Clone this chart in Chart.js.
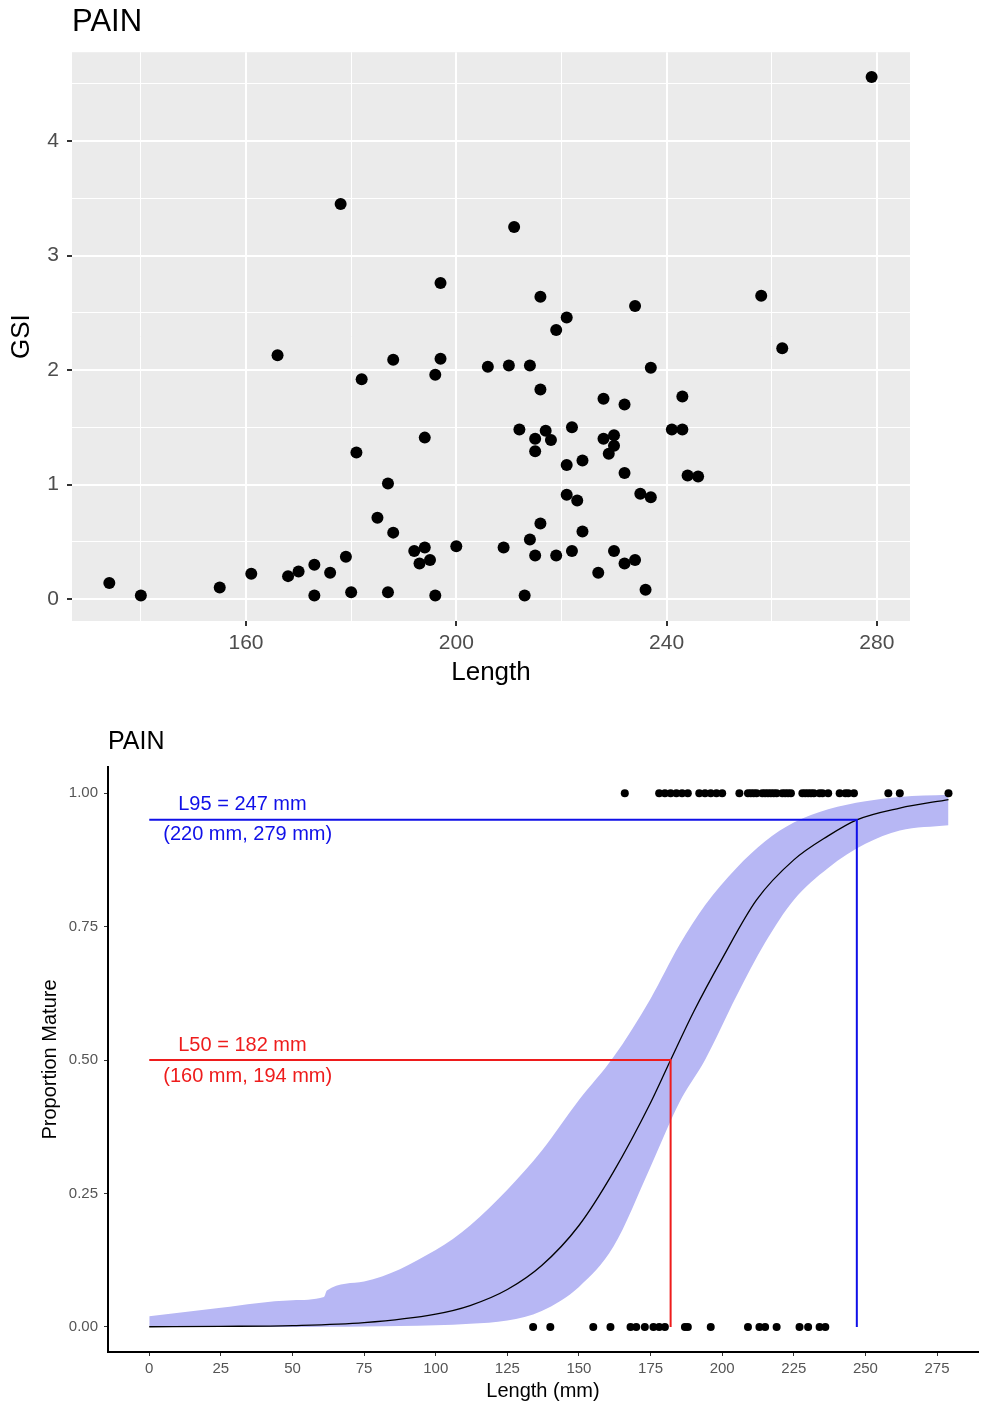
<!DOCTYPE html>
<html>
<head>
<meta charset="utf-8">
<script src="https://cdn.jsdelivr.net/npm/chart.js@4"></script>
<style>
  body { margin: 0; background: #fff; }
  .wrap { position: absolute; left: 0; width: 982px; }
</style>
</head>
<body>
<div class="wrap" style="top:0;height:700px"><canvas id="gsiChart" width="982" height="700"></canvas></div>
<div class="wrap" style="top:700px;height:707px"><canvas id="matChart" width="982" height="707"></canvas></div>
<script>
const speciesName = 'PAIN';

// GSI vs length (top panel)
const gsiLength = [134, 140, 155, 161, 166, 168, 170, 173, 173, 176, 178, 179, 180, 181, 182, 185, 187, 187, 188, 188,
    192, 193, 194, 194, 195, 196, 196, 197, 197, 200, 206, 209, 210, 211, 212, 213, 214, 214, 215, 215,
    215, 216, 216, 216, 217, 218, 219, 219, 221, 221, 221, 222, 222, 223, 224, 224, 227, 228, 228, 229,
    230, 230, 230, 232, 232, 232, 234, 234, 235, 236, 237, 237, 241, 243, 243, 244, 246, 258, 262, 279];
const gsiValue = [0.14, 0.03, 0.10, 0.22, 2.13, 0.20, 0.24, 0.30, 0.03, 0.23, 3.45, 0.37, 0.06, 1.28, 1.92, 0.71, 1.01, 0.06, 2.09, 0.58,
    0.42, 0.31, 1.41, 0.45, 0.34, 1.96, 0.03, 2.76, 2.10, 0.46, 2.03, 0.45, 2.04, 3.25, 1.48, 0.03, 2.04, 0.52, 1.40, 1.29,
    0.38, 1.83, 2.64, 0.66, 1.47, 1.39, 2.35, 0.38, 2.46, 1.17, 0.91, 1.50, 0.42, 0.86, 1.21, 0.59, 0.23, 1.75, 1.40, 1.27,
    1.43, 1.34, 0.42, 1.70, 1.10, 0.31, 2.56, 0.34, 0.92, 0.08, 2.02, 0.89, 1.48, 1.48, 1.77, 1.08, 1.07, 2.65, 2.19, 4.56];
const gsiMajorX = [160, 200, 240, 280];
const gsiMinorX = [140, 180, 220, 260];
const gsiMajorY = [0, 1, 2, 3, 4];
const gsiMinorY = [0.5, 1.5, 2.5, 3.5, 4.5];

// maturity ogive (bottom panel)
const matureLength = [166, 178, 180, 182, 184, 186, 188, 192, 194, 196, 198, 200, 206, 209, 210, 211, 212, 214, 215, 216,
    217, 218, 219, 221, 222, 223, 224, 228, 229, 230, 231, 232, 234, 235, 237, 241, 243, 244, 246, 258, 262, 279];
const immatureLength = [134, 140, 155, 161, 168, 170, 173, 176, 178, 180, 187, 188, 196, 209, 213, 215, 219, 227, 230, 234, 236];
const fitLength = [0, 25, 50, 75, 100, 112, 125, 137, 150, 162, 175, 182, 190, 200, 212, 225, 237, 247, 262, 279];
const fitProp = [0.0003, 0.001, 0.0025, 0.008, 0.024, 0.04, 0.07, 0.115, 0.19, 0.29, 0.42, 0.5, 0.59, 0.69, 0.8, 0.875, 0.92, 0.95, 0.972, 0.988];
const bandLength = [0, 25, 50, 61, 62, 75, 100, 112, 125, 137, 150, 162, 175, 185, 194, 205, 215, 225, 237, 250, 262, 279];
const bandLower = [0, 0, 0, 0.0005, 0.0005, 0.001, 0.003, 0.006, 0.012, 0.03, 0.075, 0.15, 0.3, 0.42, 0.5, 0.62, 0.72, 0.8, 0.86, 0.905, 0.93, 0.94];
const bandUpper = [0.02, 0.036, 0.05, 0.056, 0.068, 0.085, 0.144, 0.19, 0.257, 0.33, 0.425, 0.505, 0.615, 0.715, 0.79, 0.86, 0.91, 0.945, 0.97, 0.985, 0.993, 0.997];
const l50 = 182, l50Ci = [160, 194];
const l95 = 247, l95Ci = [220, 279];
const matTicksX = [0, 25, 50, 75, 100, 125, 150, 175, 200, 225, 250, 275];
const matTicksY = [0, 0.25, 0.5, 0.75, 1];

const FONT = 'Liberation Sans';
Chart.defaults.font.family = FONT;
Chart.defaults.animation = false;

// ---------- top chart ----------
const panelBg = {
    id: 'panelBg',
    beforeDraw(chart) {
        const a = chart.chartArea;
        chart.ctx.save();
        chart.ctx.fillStyle = '#ebebeb';
        chart.ctx.fillRect(a.left, a.top, a.right - a.left, a.bottom - a.top);
        chart.ctx.restore();
    }
};

const isMajorX = v => gsiMajorX.includes(v);
const isMajorY = v => gsiMajorY.includes(v);

new Chart(document.getElementById('gsiChart'), {
    type: 'scatter',
    data: {
        datasets: [{
            data: gsiLength.map((x, i) => ({ x: x, y: gsiValue[i] })),
            backgroundColor: '#000',
            borderWidth: 0,
            pointRadius: 6
        }]
    },
    options: {
        responsive: false,
        layout: { padding: { right: 72 } },
        plugins: {
            legend: { display: false },
            tooltip: { enabled: false },
            title: {
                display: true, text: speciesName, align: 'start', fullSize: false,
                color: '#000', font: { size: 31, weight: 'normal' },
                padding: { top: 4, bottom: 11 }
            }
        },
        scales: {
            x: {
                type: 'linear', min: 126.9, max: 286.3,
                afterBuildTicks: s => { s.ticks = gsiMinorX.concat(gsiMajorX).sort((a, b) => a - b).map(v => ({ value: v })); },
                afterFit: s => { s.height = 79; },
                border: { display: false },
                grid: {
                    color: '#fff', tickLength: 5,
                    lineWidth: c => isMajorX(c.tick.value) ? 2 : 1,
                    tickColor: c => isMajorX(c.tick.value) ? '#333' : 'rgba(0,0,0,0)'
                },
                ticks: {
                    color: '#4d4d4d', font: { size: 21 }, padding: 5, maxRotation: 0,
                    callback: v => isMajorX(v) ? String(v) : ''
                },
                title: { display: true, text: 'Length', color: '#000', font: { size: 26 }, padding: { top: 0, bottom: 12 } }
            },
            y: {
                type: 'linear', min: -0.192, max: 4.777,
                afterBuildTicks: s => { s.ticks = gsiMinorY.concat(gsiMajorY).sort((a, b) => a - b).map(v => ({ value: v })); },
                afterFit: s => { s.width = 72; },
                border: { display: false },
                grid: {
                    color: '#fff', tickLength: 5,
                    lineWidth: c => isMajorY(c.tick.value) ? 2 : 1,
                    tickColor: c => isMajorY(c.tick.value) ? '#333' : 'rgba(0,0,0,0)'
                },
                ticks: {
                    color: '#4d4d4d', font: { size: 21 }, padding: 8,
                    callback: v => isMajorY(v) ? String(v) : ''
                },
                title: { display: true, text: 'GSI', color: '#000', font: { size: 26 }, padding: { top: 6, bottom: 0 } }
            }
        }
    },
    plugins: [panelBg]
});

// ---------- bottom chart ----------
const blue = '#1010e8';
const red = '#ee1c1c';

const estimateLabels = {
    id: 'estimateLabels',
    afterDatasetsDraw(chart) {
        const ctx = chart.ctx;
        const x0 = chart.scales.x.getPixelForValue(0);
        const y95 = chart.scales.y.getPixelForValue(0.95);
        const y50 = chart.scales.y.getPixelForValue(0.5);
        ctx.save();
        ctx.font = '20px ' + FONT;
        ctx.textBaseline = 'middle';
        ctx.textAlign = 'left';
        ctx.fillStyle = blue;
        ctx.fillText('L95 = ' + l95 + ' mm', x0 + 29, y95 - 15);
        ctx.fillText('(' + l95Ci[0] + ' mm, ' + l95Ci[1] + ' mm)', x0 + 14, y95 + 15);
        ctx.fillStyle = red;
        ctx.fillText('L50 = ' + l50 + ' mm', x0 + 29, y50 - 15);
        ctx.fillText('(' + l50Ci[0] + ' mm, ' + l50Ci[1] + ' mm)', x0 + 14, y50 + 16);
        ctx.restore();
    }
};

const xy = (xs, ys) => xs.map((x, i) => ({ x: x, y: ys[i] }));

new Chart(document.getElementById('matChart'), {
    type: 'line',
    data: {
        datasets: [
            { type: 'scatter', data: matureLength.map(x => ({ x: x, y: 1 })), backgroundColor: '#000', borderWidth: 0, pointRadius: 4 },
            { type: 'scatter', data: immatureLength.map(x => ({ x: x, y: 0 })), backgroundColor: '#000', borderWidth: 0, pointRadius: 4 },
            { data: [{ x: 0, y: 0.5 }, { x: l50, y: 0.5 }, { x: l50, y: 0 }], borderColor: red, borderWidth: 2, pointRadius: 0, fill: false, tension: 0 },
            { data: [{ x: 0, y: 0.95 }, { x: l95, y: 0.95 }, { x: l95, y: 0 }], borderColor: blue, borderWidth: 2, pointRadius: 0, fill: false, tension: 0 },
            { data: xy(fitLength, fitProp), borderColor: '#000', borderWidth: 1.3, pointRadius: 0, fill: false, cubicInterpolationMode: 'monotone' },
            { data: xy(bandLength, bandLower), borderWidth: 0, borderColor: 'rgba(0,0,0,0)', pointRadius: 0, fill: false, cubicInterpolationMode: 'monotone' },
            { data: xy(bandLength, bandUpper), borderWidth: 0, borderColor: 'rgba(0,0,0,0)', pointRadius: 0, fill: '-1', backgroundColor: '#b7b7f4', cubicInterpolationMode: 'monotone' }
        ]
    },
    options: {
        responsive: false,
        plugins: {
            legend: { display: false },
            tooltip: { enabled: false },
            title: {
                display: true, text: speciesName, align: 'start', fullSize: false,
                color: '#000', font: { size: 25, weight: 'normal' },
                padding: { top: 27, bottom: 10 }
            }
        },
        scales: {
            x: {
                type: 'linear', min: -14.4, max: 289.3,
                afterBuildTicks: s => { s.ticks = matTicksX.map(v => ({ value: v })); },
                afterFit: s => { s.height = 55; },
                border: { display: true, color: '#000', width: 2 },
                grid: { drawOnChartArea: false, tickLength: 4, tickColor: '#333' },
                ticks: { color: '#555', font: { size: 15 }, padding: 4, maxRotation: 0 },
                title: { display: true, text: 'Length (mm)', color: '#000', font: { size: 20 }, padding: { top: 0, bottom: 4 } }
            },
            y: {
                type: 'linear', min: -0.047, max: 1.049,
                afterBuildTicks: s => { s.ticks = matTicksY.map(v => ({ value: v })); },
                afterFit: s => { s.width = 108; },
                border: { display: true, color: '#000', width: 2 },
                grid: { drawOnChartArea: false, tickLength: 4, tickColor: '#333' },
                ticks: { color: '#555', font: { size: 15 }, padding: 6, callback: v => v.toFixed(2) },
                title: { display: true, text: 'Proportion Mature', color: '#000', font: { size: 20 }, padding: { top: 38, bottom: 0 } }
            }
        }
    },
    plugins: [estimateLabels]
});
</script>
</body>
</html>
